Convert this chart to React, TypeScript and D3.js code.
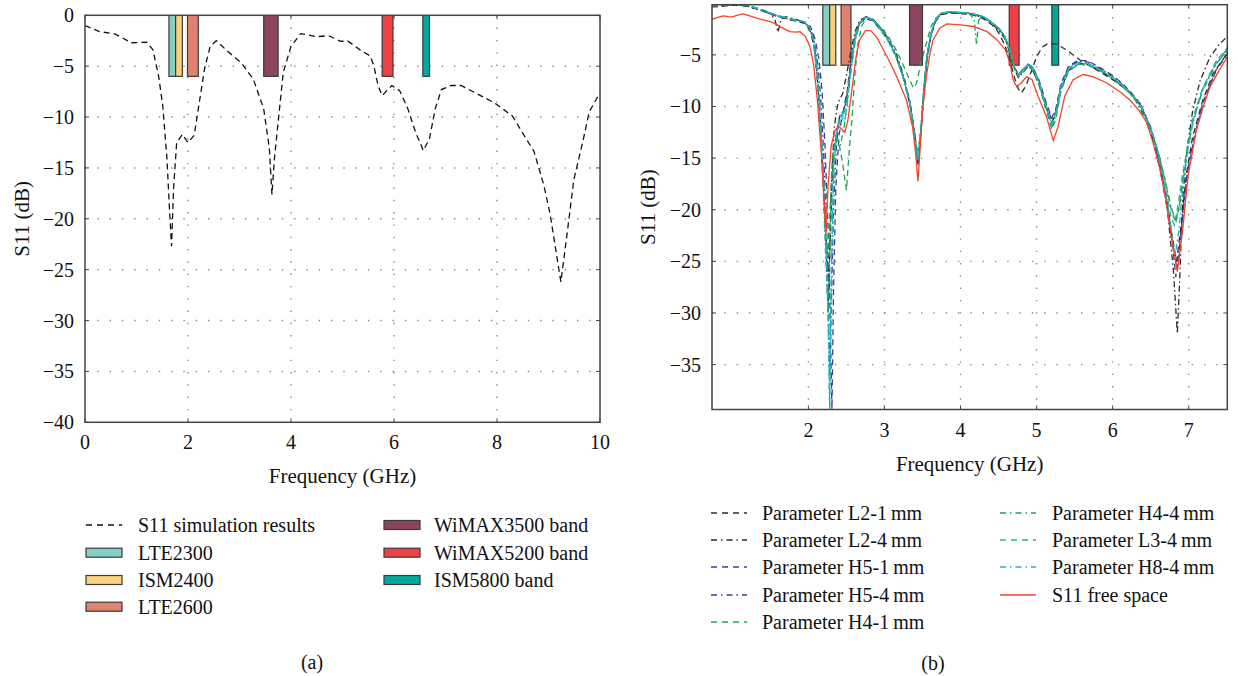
import React from 'react';
import * as d3 from 'd3';

type P = [number, number];

// ---------- (a) simulation ----------
const simS11: P[] = [[0,-1.0],[0.28,-1.6],[0.59,-1.85],[0.9,-2.7],[1.2,-2.65],[1.32,-3.4],[1.43,-6],[1.51,-8.9],[1.59,-14],[1.64,-19],[1.68,-22.7],[1.72,-17],[1.78,-12.5],[1.89,-11.7],[2.0,-12.5],[2.12,-11.8],[2.2,-9.2],[2.32,-5.3],[2.43,-3.05],[2.55,-2.5],[2.74,-3.4],[3.04,-4.7],[3.27,-6.3],[3.47,-9.2],[3.58,-13.1],[3.63,-17.6],[3.68,-14],[3.73,-11.5],[3.85,-5.6],[4.0,-3.05],[4.19,-1.8],[4.5,-2.1],[4.73,-2.0],[4.96,-2.55],[5.11,-2.55],[5.34,-3.4],[5.54,-4.0],[5.61,-5.0],[5.69,-6.9],[5.77,-7.9],[5.88,-7.3],[5.96,-6.9],[6.11,-7.4],[6.27,-9.2],[6.42,-11.5],[6.57,-13.3],[6.69,-12.1],[6.8,-9.2],[6.92,-7.3],[7.11,-6.9],[7.3,-6.9],[7.57,-7.6],[7.95,-8.6],[8.3,-9.9],[8.49,-11.5],[8.72,-13.4],[8.91,-16.7],[9.03,-19.5],[9.24,-26.2],[9.33,-22.7],[9.41,-19.5],[9.49,-16.2],[9.56,-14.7],[9.68,-12.1],[9.79,-9.5],[10,-7.6]];

const bandNames = ['LTE2300', 'ISM2400', 'LTE2600', 'WiMAX3500 band', 'WiMAX5200 band', 'ISM5800 band'];
const bandColors = ['#86cfc4', '#fdd07f', '#e0826f', '#8b4560', '#ef4045', '#00a99d'];
const bandsA: P[] = [[1.63,1.76],[1.76,1.89],[1.99,2.2],[3.47,3.75],[5.77,5.98],[6.56,6.69]];
const bandsB: P[] = [[2.19,2.28],[2.28,2.36],[2.43,2.56],[3.33,3.50],[4.64,4.77],[5.20,5.29]];
const bandTop = 0;
const bandBottom = -6;

const xTicksA = [0, 2, 4, 6, 8, 10];
const yTicksA = [0, -5, -10, -15, -20, -25, -30, -35, -40];
const xTicksB = [2, 3, 4, 5, 6, 7];
const yTicksB = [-5, -10, -15, -20, -25, -30, -35];

// ---------- (b) parameter study ----------
const L2_1: P[] = [[0.733,-0.35],[0.85,-0.3],[1.0,-0.2],[1.1,-0.2],[1.2,-0.3],[1.32,-0.55],[1.42,-0.8],[1.54,-1.15],[1.65,-1.4],[1.76,-1.6],[1.86,-1.75],[1.95,-1.95],[2.02,-2.6],[2.07,-4.0],[2.11,-6.5],[2.15,-10.5],[2.19,-16],[2.23,-23],[2.26,-30],[2.29,-22],[2.32,-16],[2.36,-13],[2.41,-11],[2.46,-10.5],[2.51,-8.5],[2.56,-5.5],[2.62,-3],[2.68,-1.9],[2.76,-1.5],[2.85,-1.7],[2.95,-2.6],[3.05,-3.6],[3.16,-5.3],[3.26,-7.5],[3.34,-10],[3.40,-13],[3.44,-15.5],[3.48,-12.5],[3.52,-8.5],[3.56,-5.5],[3.61,-3.2],[3.67,-1.8],[3.74,-1.1],[3.85,-0.95],[4.0,-1.0],[4.15,-1.1],[4.3,-1.5],[4.4,-2.0],[4.48,-2.6],[4.58,-4.0],[4.65,-5.5],[4.70,-7.0],[4.76,-8.3],[4.80,-8.7],[4.86,-8.0],[4.92,-6.8],[5.0,-5.2],[5.08,-4.2],[5.15,-3.9],[5.26,-3.95],[5.39,-4.5],[5.57,-5.5],[5.79,-6.45],[6.0,-7.4],[6.23,-8.6],[6.38,-10],[6.5,-12],[6.6,-14.5],[6.7,-18.5],[6.78,-22.5],[6.84,-25],[6.9,-21.5],[6.97,-16.5],[7.05,-13],[7.18,-9.5],[7.32,-6.8],[7.51,-4.8]];
const L2_4: P[] = [[0.733,-0.3],[0.85,-0.25],[1.0,-0.15],[1.1,-0.15],[1.2,-0.3],[1.32,-0.55],[1.42,-0.8],[1.5,-1.0],[1.56,-1.6],[1.6,-2.8],[1.64,-1.6],[1.7,-1.3],[1.8,-1.5],[1.9,-1.7],[1.97,-1.9],[2.03,-2.6],[2.08,-4.2],[2.12,-7.5],[2.16,-12],[2.2,-18],[2.24,-24],[2.27,-27],[2.3,-18],[2.34,-12],[2.38,-10],[2.41,-9.3],[2.45,-8.8],[2.5,-7],[2.55,-5],[2.61,-2.8],[2.68,-1.6],[2.76,-1.35],[2.85,-1.55],[2.95,-2.4],[3.05,-3.4],[3.16,-5.0],[3.26,-7.2],[3.34,-9.8],[3.40,-12.8],[3.44,-15],[3.48,-12],[3.52,-8],[3.56,-5],[3.61,-3],[3.67,-1.7],[3.74,-1.05],[3.85,-0.9],[4.0,-0.95],[4.15,-1.05],[4.3,-1.4],[4.4,-1.9],[4.5,-2.6],[4.58,-3.4],[4.65,-4.8],[4.71,-6.4],[4.76,-7.2],[4.82,-6.7],[4.89,-6.1],[4.95,-6.5],[5.03,-7.8],[5.12,-10],[5.2,-11.5],[5.25,-10.8],[5.32,-8.3],[5.42,-6.5],[5.55,-5.8],[5.7,-6.0],[5.85,-6.6],[6.0,-7.3],[6.15,-8.1],[6.3,-9.4],[6.42,-11],[6.52,-13],[6.62,-16],[6.72,-20],[6.8,-26],[6.85,-32],[6.88,-27],[6.92,-19],[6.98,-14],[7.05,-10.5],[7.15,-7.5],[7.28,-5.2],[7.4,-4],[7.51,-3.2]];
const H5_1: P[] = [[0.733,-0.25],[0.85,-0.2],[1.0,-0.1],[1.1,-0.12],[1.2,-0.25],[1.32,-0.5],[1.42,-0.75],[1.54,-1.1],[1.65,-1.35],[1.76,-1.55],[1.86,-1.7],[1.95,-1.85],[2.03,-2.3],[2.09,-3.5],[2.14,-5.5],[2.18,-8.5],[2.22,-14],[2.26,-22],[2.29,-32],[2.31,-39.3],[2.33,-28],[2.36,-18],[2.4,-13],[2.44,-11],[2.48,-10],[2.52,-8.5],[2.57,-5.5],[2.62,-3.2],[2.68,-1.7],[2.76,-1.3],[2.85,-1.55],[2.95,-2.4],[3.05,-3.4],[3.16,-5.2],[3.26,-7.4],[3.34,-9.8],[3.40,-13],[3.44,-15.8],[3.48,-12.5],[3.52,-8.5],[3.56,-5.3],[3.61,-3.1],[3.67,-1.7],[3.74,-1.0],[3.85,-0.85],[4.0,-0.9],[4.15,-1.0],[4.3,-1.3],[4.4,-1.8],[4.5,-2.4],[4.58,-3.2],[4.65,-4.5],[4.71,-6.2],[4.76,-6.9],[4.82,-6.4],[4.89,-5.9],[4.95,-6.2],[5.03,-7.4],[5.12,-9.5],[5.2,-11.1],[5.25,-10.3],[5.32,-7.8],[5.42,-6.1],[5.55,-5.5],[5.68,-5.6],[5.85,-6.3],[6.0,-7.0],[6.1,-7.6],[6.25,-8.7],[6.36,-9.7],[6.45,-11.2],[6.53,-12.9],[6.62,-15.5],[6.7,-18.5],[6.77,-22],[6.83,-26.5],[6.88,-24],[6.93,-20],[6.98,-16.5],[7.05,-13.9],[7.18,-9.7],[7.36,-6.45],[7.51,-4.84]];
const H5_4: P[] = [[0.733,-0.28],[0.85,-0.22],[1.0,-0.12],[1.1,-0.15],[1.2,-0.28],[1.32,-0.52],[1.42,-0.78],[1.54,-1.12],[1.65,-1.38],[1.76,-1.58],[1.86,-1.72],[1.95,-1.88],[2.03,-2.4],[2.08,-3.7],[2.13,-6.2],[2.17,-10],[2.21,-16],[2.25,-25],[2.28,-36],[2.30,-30],[2.33,-20],[2.37,-13.5],[2.41,-11.2],[2.46,-10.6],[2.51,-8.8],[2.56,-5.8],[2.62,-3.1],[2.68,-1.75],[2.76,-1.35],[2.85,-1.6],[2.95,-2.45],[3.05,-3.5],[3.16,-5.2],[3.26,-7.4],[3.34,-9.9],[3.40,-12.8],[3.44,-15.5],[3.48,-12.3],[3.52,-8.3],[3.56,-5.2],[3.61,-3.0],[3.67,-1.7],[3.74,-1.0],[3.85,-0.88],[4.0,-0.92],[4.15,-1.02],[4.3,-1.35],[4.4,-1.85],[4.5,-2.45],[4.58,-3.3],[4.65,-4.6],[4.71,-6.3],[4.76,-7.0],[4.82,-6.5],[4.89,-6.0],[4.95,-6.3],[5.03,-7.5],[5.12,-9.7],[5.2,-11.3],[5.25,-10.5],[5.32,-8.0],[5.42,-6.2],[5.55,-5.6],[5.68,-5.7],[5.85,-6.4],[6.0,-7.1],[6.1,-7.7],[6.25,-8.8],[6.36,-9.8],[6.45,-11.3],[6.53,-13],[6.62,-15.7],[6.7,-19],[6.77,-22.5],[6.84,-25.5],[6.89,-23],[6.94,-19],[6.99,-16],[7.06,-13.3],[7.18,-9.8],[7.36,-6.5],[7.51,-4.9]];
const H4_1: P[] = [[0.733,-0.22],[0.85,-0.18],[1.0,-0.1],[1.1,-0.12],[1.2,-0.22],[1.32,-0.45],[1.42,-0.7],[1.54,-1.05],[1.65,-1.3],[1.76,-1.5],[1.86,-1.65],[1.95,-1.8],[2.02,-2.4],[2.07,-3.7],[2.11,-6],[2.15,-10],[2.19,-16],[2.23,-22],[2.26,-24.5],[2.29,-19],[2.32,-14.5],[2.36,-13],[2.4,-13.5],[2.45,-15.5],[2.5,-18.1],[2.54,-14],[2.57,-11.5],[2.61,-7],[2.65,-4],[2.7,-2.2],[2.77,-1.4],[2.85,-1.6],[2.95,-2.3],[3.05,-3.2],[3.16,-4.6],[3.26,-6.2],[3.33,-7.4],[3.38,-8.2],[3.42,-7.8],[3.48,-5.8],[3.55,-3.9],[3.61,-2.3],[3.67,-1.5],[3.74,-1.0],[3.85,-0.85],[4.0,-0.9],[4.15,-1.0],[4.3,-1.3],[4.4,-1.8],[4.5,-2.4],[4.58,-3.2],[4.65,-4.6],[4.71,-6.4],[4.76,-7.2],[4.82,-6.7],[4.89,-6.1],[4.95,-6.5],[5.03,-7.9],[5.12,-10.2],[5.2,-12.2],[5.25,-11.3],[5.32,-8.5],[5.42,-6.6],[5.55,-5.9],[5.68,-6.0],[5.85,-6.6],[6.0,-7.3],[6.1,-7.9],[6.25,-8.9],[6.36,-9.9],[6.45,-11.3],[6.53,-12.8],[6.62,-15],[6.7,-17.5],[6.77,-20],[6.83,-21.3],[6.88,-19.5],[6.93,-16.5],[6.99,-13.5],[7.06,-11],[7.18,-8.3],[7.36,-5.8],[7.51,-4.6]];
const H4_4: P[] = [[0.733,-0.25],[0.85,-0.2],[1.0,-0.12],[1.1,-0.12],[1.2,-0.25],[1.32,-0.48],[1.42,-0.72],[1.54,-1.08],[1.65,-1.32],[1.76,-1.52],[1.86,-1.68],[1.95,-1.82],[2.02,-2.45],[2.07,-3.7],[2.11,-6.2],[2.15,-10.5],[2.19,-17],[2.23,-25],[2.26,-30],[2.29,-21],[2.33,-14.5],[2.37,-12.9],[2.42,-13.8],[2.47,-12],[2.52,-9],[2.57,-6],[2.62,-3.5],[2.68,-1.9],[2.76,-1.4],[2.85,-1.6],[2.95,-2.45],[3.05,-3.5],[3.16,-5.2],[3.26,-7.4],[3.34,-9.9],[3.40,-12.8],[3.44,-15],[3.48,-12],[3.52,-8.2],[3.56,-5.2],[3.61,-3.0],[3.67,-1.7],[3.74,-1.0],[3.85,-0.85],[4.0,-0.9],[4.12,-1.0],[4.18,-1.6],[4.21,-4.0],[4.24,-1.6],[4.3,-1.3],[4.4,-1.8],[4.5,-2.4],[4.58,-3.2],[4.65,-4.6],[4.71,-6.2],[4.76,-6.9],[4.82,-6.4],[4.89,-5.9],[4.95,-6.3],[5.03,-7.7],[5.12,-10],[5.2,-12],[5.25,-11],[5.32,-8.3],[5.42,-6.5],[5.55,-5.9],[5.68,-6.0],[5.85,-6.5],[6.0,-7.2],[6.1,-7.8],[6.25,-8.8],[6.36,-9.8],[6.45,-11.2],[6.53,-12.8],[6.62,-15],[6.7,-17.5],[6.77,-19.8],[6.83,-21],[6.88,-19.5],[6.93,-17],[6.99,-14],[7.06,-11.3],[7.18,-8.5],[7.36,-5.9],[7.51,-4.5]];
const L3_4: P[] = [[0.733,-0.2],[0.85,-0.15],[1.0,-0.08],[1.1,-0.1],[1.2,-0.2],[1.32,-0.45],[1.42,-0.7],[1.54,-1.05],[1.65,-1.3],[1.76,-1.5],[1.86,-1.65],[1.95,-1.8],[2.02,-2.4],[2.07,-3.6],[2.11,-6],[2.15,-10],[2.19,-15.5],[2.23,-22],[2.26,-30],[2.28,-39.3],[2.3,-27],[2.33,-17],[2.37,-12.5],[2.41,-10.8],[2.45,-11.2],[2.5,-9.5],[2.55,-6.5],[2.6,-3.8],[2.66,-2.0],[2.74,-1.35],[2.82,-1.45],[2.92,-2.2],[3.02,-3.2],[3.14,-4.9],[3.24,-7.0],[3.33,-9.6],[3.39,-12.5],[3.44,-15.2],[3.48,-12],[3.52,-8],[3.56,-5],[3.61,-2.9],[3.67,-1.65],[3.74,-0.98],[3.85,-0.82],[4.0,-0.88],[4.15,-0.98],[4.3,-1.3],[4.4,-1.8],[4.5,-2.4],[4.58,-3.2],[4.65,-4.5],[4.71,-6.2],[4.76,-6.9],[4.82,-6.4],[4.89,-5.9],[4.95,-6.2],[5.03,-7.5],[5.12,-9.8],[5.2,-11.7],[5.25,-10.7],[5.32,-8.1],[5.42,-6.3],[5.55,-5.7],[5.68,-5.8],[5.85,-6.5],[6.0,-7.2],[6.1,-7.8],[6.25,-8.9],[6.36,-9.9],[6.45,-11.3],[6.53,-12.8],[6.62,-15],[6.7,-17.8],[6.76,-20.5],[6.81,-21.5],[6.86,-19.5],[6.92,-16.5],[6.97,-14.5],[7.05,-11.5],[7.18,-8.3],[7.36,-5.6],[7.51,-4.3]];
const H8_4: P[] = [[0.733,-0.22],[0.85,-0.17],[1.0,-0.1],[1.1,-0.12],[1.2,-0.22],[1.32,-0.47],[1.42,-0.72],[1.54,-1.07],[1.65,-1.32],[1.76,-1.52],[1.86,-1.67],[1.95,-1.82],[2.02,-2.45],[2.07,-3.7],[2.11,-6.1],[2.15,-10.2],[2.19,-16],[2.23,-23],[2.26,-31],[2.28,-39.3],[2.3,-26],[2.33,-16],[2.37,-12.5],[2.41,-11.5],[2.44,-10.5],[2.47,-11.5],[2.5,-10.5],[2.55,-7],[2.6,-4],[2.66,-2.1],[2.74,-1.4],[2.82,-1.5],[2.92,-2.3],[3.02,-3.3],[3.14,-5.0],[3.24,-7.1],[3.33,-9.7],[3.39,-12.6],[3.44,-15.3],[3.48,-12.2],[3.52,-8.1],[3.56,-5.1],[3.61,-2.95],[3.67,-1.68],[3.74,-1.0],[3.85,-0.84],[4.0,-0.9],[4.15,-1.0],[4.3,-1.32],[4.4,-1.82],[4.5,-2.42],[4.58,-3.22],[4.65,-4.55],[4.71,-6.25],[4.76,-6.95],[4.82,-6.45],[4.89,-5.95],[4.95,-6.25],[5.03,-7.6],[5.12,-9.9],[5.2,-11.8],[5.25,-10.8],[5.32,-8.2],[5.42,-6.4],[5.55,-5.8],[5.68,-5.9],[5.85,-6.5],[6.0,-7.2],[6.1,-7.8],[6.25,-8.8],[6.36,-9.8],[6.45,-11.2],[6.53,-12.9],[6.62,-15.3],[6.7,-18.5],[6.77,-22],[6.82,-24.5],[6.87,-22],[6.92,-18],[6.97,-15],[7.05,-11.8],[7.18,-8.4],[7.36,-5.7],[7.51,-4.4]];
const freeSpace: P[] = [[0.733,-1.55],[0.8,-1.4],[0.88,-1.23],[0.95,-1.3],[1.0,-1.32],[1.07,-1.15],[1.14,-1.03],[1.22,-1.2],[1.32,-1.45],[1.4,-1.6],[1.5,-1.78],[1.57,-2.0],[1.63,-2.26],[1.7,-2.55],[1.76,-2.75],[1.83,-2.8],[1.89,-2.75],[1.96,-3.2],[2.02,-4.2],[2.07,-6],[2.12,-9.5],[2.17,-14.5],[2.21,-19.5],[2.23,-22.4],[2.26,-17.5],[2.3,-13.8],[2.35,-12.3],[2.4,-11.9],[2.44,-12.2],[2.48,-12.5],[2.52,-11.3],[2.57,-8.5],[2.62,-5.5],[2.67,-3.6],[2.75,-2.65],[2.82,-2.65],[2.9,-3.3],[2.95,-4.0],[3.05,-5.4],[3.16,-7.1],[3.29,-9.4],[3.37,-12],[3.41,-14.5],[3.44,-17.25],[3.47,-14],[3.5,-10.5],[3.55,-7.1],[3.6,-4.8],[3.64,-3.55],[3.73,-2.4],[3.82,-2.0],[4.0,-2.1],[4.17,-2.25],[4.35,-2.75],[4.48,-3.55],[4.59,-4.5],[4.65,-5.8],[4.69,-7.4],[4.74,-8.1],[4.8,-7.7],[4.87,-7.1],[4.94,-7.4],[5.02,-9.0],[5.13,-11],[5.22,-13.3],[5.28,-12.0],[5.37,-9.0],[5.48,-7.4],[5.61,-6.9],[5.74,-7.1],[5.92,-7.7],[6.1,-8.6],[6.23,-9.4],[6.35,-10.4],[6.45,-11.6],[6.53,-13.5],[6.62,-16],[6.7,-19],[6.77,-22.5],[6.85,-26],[6.92,-22],[6.99,-16.8],[7.1,-12.3],[7.2,-9.8],[7.28,-8.1],[7.4,-6.5],[7.51,-5.16]];

const seriesNames = ['Parameter L2-1\u2009mm', 'Parameter L2-4\u2009mm', 'Parameter H5-1\u2009mm', 'Parameter H5-4\u2009mm', 'Parameter H4-1\u2009mm', 'Parameter H4-4\u2009mm', 'Parameter L3-4\u2009mm', 'Parameter H8-4\u2009mm', 'S11 free space'];
const seriesData = [L2_1, L2_4, H5_1, H5_4, H4_1, H4_4, L3_4, H8_4, freeSpace];
const seriesColors = ['#2a2a2a', '#2a2a2a', '#3c3c9c', '#3c3c9c', '#1ea352', '#1ea352', '#22b2a2', '#22b4c4', '#f2442c'];
const DASH = '6,4';
const DASHDOT = '6,3,1.5,3';
const seriesDash = [DASH, DASHDOT, DASH, DASHDOT, DASH, DASHDOT, DASH, DASHDOT, ''];

const FONT = '"Liberation Serif", "Times New Roman", serif';
const AXIS = '#444';
const GRID = '#8a8a8a';

// layouts
const A = { l: 85, r: 600, t: 15.3, b: 422.3 };
const B = { l: 712, r: 1227.3, t: 4.7, b: 409.5 };

const xA = d3.scaleLinear().domain([0, 10]).range([A.l, A.r]);
const yA = d3.scaleLinear().domain([-40, 0]).range([A.b, A.t]);
const xB = d3.scaleLinear().domain([0.733, 7.507]).range([B.l, B.r]);
const yB = d3.scaleLinear().domain([-39.35, -0.14]).range([B.b, B.t]);

const fmt = (v: number) => (v < 0 ? '\u2212' + Math.abs(v) : String(v));

function Frame({ box, x, y, xt, yt }: any) {
  const tl = 4;
  return (
    <g>
      {xt.filter((v: number) => x(v) > box.l + 1 && x(v) < box.r - 1).map((v: number) => (
        <line key={'gx' + v} x1={x(v)} x2={x(v)} y1={box.t} y2={box.b} stroke={GRID} strokeWidth={1.4} strokeDasharray="1.4,10.9" />
      ))}
      {yt.filter((v: number) => y(v) > box.t + 1 && y(v) < box.b - 1).map((v: number) => (
        <line key={'gy' + v} y1={y(v)} y2={y(v)} x1={box.l} x2={box.r} stroke={GRID} strokeWidth={1.4} strokeDasharray="1.4,10.9" />
      ))}
      {xt.map((v: number) => (
        <g key={'tx' + v}>
          <line x1={x(v)} x2={x(v)} y1={box.b} y2={box.b - tl} stroke={AXIS} strokeWidth={1} />
          <line x1={x(v)} x2={x(v)} y1={box.t} y2={box.t + tl} stroke={AXIS} strokeWidth={1} />
        </g>
      ))}
      {yt.map((v: number) => (
        <g key={'ty' + v}>
          <line x1={box.l} x2={box.l + tl} y1={y(v)} y2={y(v)} stroke={AXIS} strokeWidth={1} />
          <line x1={box.r} x2={box.r - tl} y1={y(v)} y2={y(v)} stroke={AXIS} strokeWidth={1} />
        </g>
      ))}
    </g>
  );
}

function Labels({ box, x, y, xt, yt, xLabelY, xTickY, yLabelX }: any) {
  return (
    <g fontFamily={FONT} fontSize={20} fill="#111">
      {xt.map((v: number) => (
        <text key={'lx' + v} x={x(v)} y={xTickY} textAnchor="middle" dominantBaseline="central">{fmt(v)}</text>
      ))}
      {yt.map((v: number) => (
        <text key={'ly' + v} x={box.l - 11} y={y(v)} textAnchor="end" dominantBaseline="central">{fmt(v)}</text>
      ))}
      <text x={(box.l + box.r) / 2} y={xLabelY} fontSize={21} textAnchor="middle" dominantBaseline="central">Frequency (GHz)</text>
      <text transform={`translate(${yLabelX},${(box.t + box.b) / 2}) rotate(-90)`} fontSize={21} textAnchor="middle" dominantBaseline="central">S11 (dB)</text>
    </g>
  );
}

export default function App() {
  const lineA = d3.line<P>().x(d => xA(d[0])).y(d => yA(d[1]));
  const lineB = d3.line<P>().x(d => xB(d[0])).y(d => yB(d[1]));

  const legA1 = [0, 1, 2];
  const legA2 = [3, 4, 5];
  const rowsA = [525, 552.7, 580, 606.7];
  const rowsB = [513, 540, 567, 595, 622];

  return (
    <svg width={1238} height={676} style={{ position: 'absolute', left: 0, top: 0, background: '#fff' }}>
      <defs>
        <clipPath id="clipA"><rect x={A.l} y={A.t} width={A.r - A.l} height={A.b - A.t} /></clipPath>
        <clipPath id="clipB"><rect x={B.l} y={B.t} width={B.r - B.l} height={B.b - B.t} /></clipPath>
      </defs>
      <rect x={0} y={0} width={1238} height={676} fill="#fff" />

      {/* ---------- (a) ---------- */}
      <Frame box={A} x={xA} y={yA} xt={xTicksA} yt={yTicksA} />
      <g clipPath="url(#clipA)">
        <path d={lineA(simS11) || ''} fill="none" stroke="#111" strokeWidth={1.3} strokeDasharray="6,4" />
        {bandsA.map((b, i) => (
          <rect key={'ba' + i} x={xA(b[0])} y={yA(bandTop)} width={xA(b[1]) - xA(b[0])} height={yA(bandBottom) - yA(bandTop)}
            fill={bandColors[i]} stroke="#3a3a3a" strokeWidth={1.2} />
        ))}
      </g>
      <rect x={A.l} y={A.t} width={A.r - A.l} height={A.b - A.t} fill="none" stroke={AXIS} strokeWidth={1.5} />
      <Labels box={A} x={xA} y={yA} xt={xTicksA} yt={yTicksA} xLabelY={476} xTickY={442} yLabelX={22} />

      {/* ---------- (b) ---------- */}
      <Frame box={B} x={xB} y={yB} xt={xTicksB} yt={yTicksB} />
      <g clipPath="url(#clipB)">
        {bandsB.map((b, i) => (
          <rect key={'bb' + i} x={xB(b[0])} y={yB(bandTop)} width={xB(b[1]) - xB(b[0])} height={yB(bandBottom) - yB(bandTop)}
            fill={bandColors[i]} stroke="#3a3a3a" strokeWidth={1.2} />
        ))}
        {seriesData.map((s, i) => (
          <path key={'s' + i} d={lineB(s) || ''} fill="none" stroke={seriesColors[i]} strokeWidth={1.3}
            strokeDasharray={seriesDash[i] || undefined} />
        ))}
      </g>
      <rect x={B.l} y={B.t} width={B.r - B.l} height={B.b - B.t} fill="none" stroke={AXIS} strokeWidth={1.5} />
      <Labels box={B} x={xB} y={yB} xt={xTicksB} yt={yTicksB} xLabelY={464} xTickY={430} yLabelX={648} />

      {/* ---------- legend (a) ---------- */}
      <g fontFamily={FONT} fontSize={20} fill="#111">
        <line x1={86} x2={122} y1={rowsA[0]} y2={rowsA[0]} stroke="#111" strokeWidth={1.3} strokeDasharray="6,5" />
        <text x={138} y={rowsA[0]} dominantBaseline="central">S11 simulation results</text>
        {legA1.map((bi, k) => (
          <g key={'la1' + bi}>
            <rect x={86} y={rowsA[k + 1] - 4.5} width={36} height={9} fill={bandColors[bi]} stroke="#3a3a3a" strokeWidth={1.2} />
            <text x={138} y={rowsA[k + 1]} dominantBaseline="central">{bandNames[bi]}</text>
          </g>
        ))}
        {legA2.map((bi, k) => (
          <g key={'la2' + bi}>
            <rect x={384} y={rowsA[k] - 4.5} width={36} height={9} fill={bandColors[bi]} stroke="#3a3a3a" strokeWidth={1.2} />
            <text x={434} y={rowsA[k]} dominantBaseline="central">{bandNames[bi]}</text>
          </g>
        ))}
        <text x={312} y={662} textAnchor="middle" dominantBaseline="central">(a)</text>
      </g>

      {/* ---------- legend (b) ---------- */}
      <g fontFamily={FONT} fontSize={20} fill="#111">
        {seriesNames.map((n, i) => {
          const col = i < 5 ? 0 : 1;
          const row = i < 5 ? i : i - 5;
          const lx = col === 0 ? 711 : 1000;
          const tx = col === 0 ? 762 : 1052;
          const yy = rowsB[row];
          return (
            <g key={'lb' + i}>
              <line x1={lx} x2={lx + 36} y1={yy} y2={yy} stroke={seriesColors[i]} strokeWidth={1.3}
                strokeDasharray={seriesDash[i] ? (seriesDash[i] === DASH ? '6,5' : '6,4,1.5,4') : undefined} />
              <text x={tx} y={yy} dominantBaseline="central">{n}</text>
            </g>
          );
        })}
        <text x={933} y={663} textAnchor="middle" dominantBaseline="central">(b)</text>
      </g>
    </svg>
  );
}
